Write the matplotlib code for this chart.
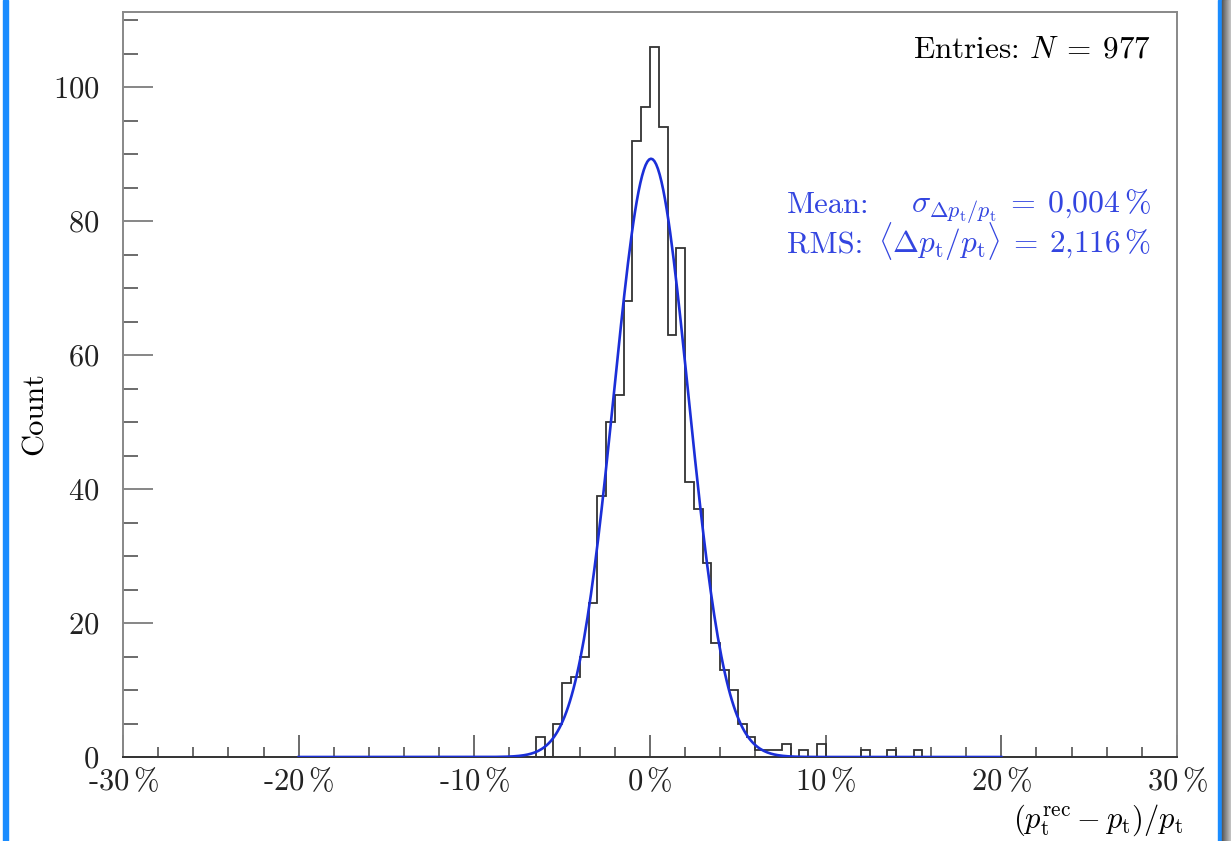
import numpy as np
import matplotlib
matplotlib.use("Agg")
import matplotlib.pyplot as plt
from matplotlib.patches import Rectangle
from matplotlib.ticker import MultipleLocator, FixedLocator

plt.rcParams['font.family'] = 'serif'
plt.rcParams['font.serif'] = ['cmr10', 'DejaVu Serif']
plt.rcParams['mathtext.fontset'] = 'cm'
plt.rcParams['axes.unicode_minus'] = False
plt.rcParams['axes.formatter.use_mathtext'] = True

# histogram, 0.5 % bins, left edge of first bin = -7 %
bin_lo = -7.0
bin_w = 0.5
counts = [0, 3, 0, 5, 11, 12, 15, 23, 39, 50, 54, 68, 92, 97,      # -7 .. 0
          106, 94, 63, 76, 41, 37, 29, 17, 13, 10, 5, 3,         # 0 .. 6
          1, 1, 1, 2, 0, 1, 0, 2, 0, 0, 0, 0, 1, 0, 0, 1, 0, 0, 1, 0]  # 6 .. 16

# gaussian fit drawn in blue
fit_amp = 89.3
fit_mu = 0.06
fit_sigma = 2.12
fit_range = (-20, 20)

xticks = [-30, -20, -10, 0, 10, 20, 30]
yticks = [0, 20, 40, 60, 80, 100]

n_entries = 977
txt_mean = r"$\sigma_{\Delta p_\mathrm{t}/p_\mathrm{t}}\:=\:0{,}004\,\%$"
txt_rms = r"$\langle\Delta p_\mathrm{t}/p_\mathrm{t}\rangle\:=\:2{,}116\,\%$"

W, H = 1231, 841
fig = plt.figure(figsize=(W / 100, H / 100), dpi=100)
ax = fig.add_axes([123 / W, 1 - 757 / H, (1177 - 123) / W, (757 - 12) / H])

edges = bin_lo + bin_w * np.arange(len(counts) + 1)
ax.stairs(counts, edges, color='#333333', lw=1.3, zorder=3)

xf = np.linspace(fit_range[0], fit_range[1], 400)
yf = fit_amp * np.exp(-0.5 * ((xf - fit_mu) / fit_sigma) ** 2)
ax.plot(xf, yf, color='#1b2fd8', lw=1.9, zorder=4)

ax.set_xlim(-30, 30)
ax.set_ylim(0, 111.2)

ax.xaxis.set_major_locator(FixedLocator(xticks))
ax.xaxis.set_minor_locator(MultipleLocator(2))
ax.yaxis.set_major_locator(FixedLocator(yticks))
ax.yaxis.set_minor_locator(MultipleLocator(5))
ax.set_xticklabels([f"{v}" + r"$\,$%" for v in xticks])

ax.tick_params(axis='both', which='both', direction='in', top=False, right=False,
               labelsize=22, colors='#222222')
ax.tick_params(axis='y', which='major', length=21.6, width=1.1, pad=17, color='#666666')
ax.tick_params(axis='y', which='minor', length=10.8, width=1.1, color='#444444')
ax.tick_params(axis='x', which='major', length=15.6, width=1.1, pad=7, color='#444444')
ax.tick_params(axis='x', which='minor', length=7.2, width=1.1, color='#444444')

for side in ['top', 'right', 'left']:
    ax.spines[side].set_color('#888888')
    ax.spines[side].set_linewidth(1.4)
ax.spines['bottom'].set_color('#333333')
ax.spines['bottom'].set_linewidth(1.4)

def px(x, y):
    return x / W, 1 - y / H

fig.text(*px(35, 414), "Count", rotation=90, ha='center', va='center', fontsize=22)
fig.text(*px(1183, 828), r"$(p_\mathrm{t}^\mathrm{rec} - p_\mathrm{t})/p_\mathrm{t}$",
         ha='right', va='baseline', fontsize=22)

fig.text(*px(1151, 57), "Entries: " + r"$N\:=\:$" + f"{n_entries}",
         ha='right', va='baseline', fontsize=22.5)

blue_txt = '#3345e0'
fig.text(*px(787, 213), "Mean:", ha='left', va='baseline', fontsize=22, color=blue_txt)
fig.text(*px(1151, 213), txt_mean, ha='right', va='baseline', fontsize=23, color=blue_txt)
fig.text(*px(787, 253), "RMS:", ha='left', va='baseline', fontsize=22, color=blue_txt)
fig.text(*px(1151, 253), txt_rms, ha='right', va='baseline', fontsize=22.5, color=blue_txt)

# viewer frame: blue bars at both sides, grey shadow on the right
fig.patches.append(Rectangle((3 / W, 0), 4.5 / W, 1, transform=fig.transFigure,
                             color='#1a8cff', zorder=10))
fig.patches.append(Rectangle((1217.5 / W, 0), 4.5 / W, 1, transform=fig.transFigure,
                             color='#1a8cff', zorder=10))
for i, g in enumerate(np.linspace(0.35, 0.75, 9)):
    fig.patches.append(Rectangle(((1222 + i) / W, 0), 1.05 / W, 1, transform=fig.transFigure,
                                 color=(g, g, g), zorder=10))

fig.savefig("out.png", dpi=100)
